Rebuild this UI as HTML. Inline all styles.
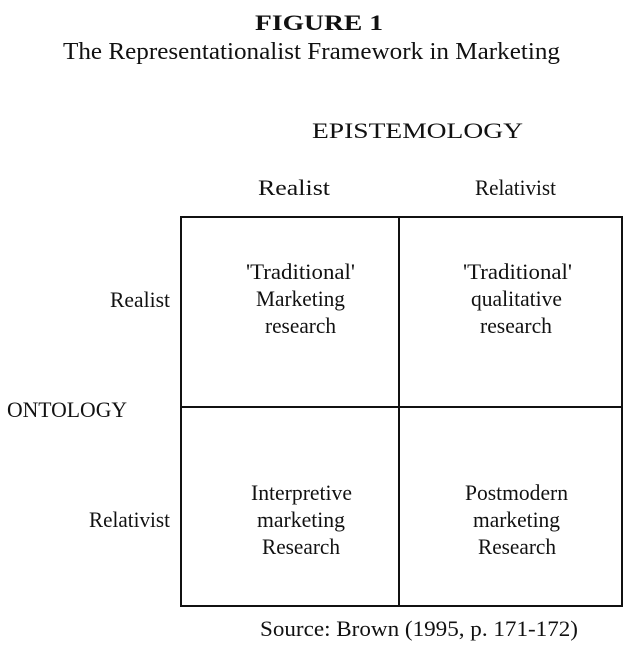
<!DOCTYPE html>
<html><head><meta charset="utf-8"><style>
html,body{margin:0;padding:0;background:#fff;}
svg{display:block;}
text{font-family:"Liberation Serif",serif;fill:#111;font-size:22px;}
</style></head><body>
<svg width="640" height="668" viewBox="0 0 640 668" xmlns="http://www.w3.org/2000/svg">
<text x="255" y="30" textLength="128" lengthAdjust="spacingAndGlyphs" style="font-weight:bold;font-size:22px">FIGURE 1</text>
<text x="63" y="59" textLength="497" lengthAdjust="spacingAndGlyphs" style="font-size:24px">The Representationalist Framework in Marketing</text>
<text x="312" y="138" textLength="211" lengthAdjust="spacingAndGlyphs">EPISTEMOLOGY</text>
<text x="258" y="195" textLength="72" lengthAdjust="spacingAndGlyphs">Realist</text>
<text x="475" y="195" textLength="81" lengthAdjust="spacingAndGlyphs">Relativist</text>
<text x="110" y="307" textLength="60" lengthAdjust="spacingAndGlyphs">Realist</text>
<text x="7" y="417" textLength="120" lengthAdjust="spacingAndGlyphs">ONTOLOGY</text>
<text x="89" y="527" textLength="81" lengthAdjust="spacingAndGlyphs">Relativist</text>
<g fill="none" stroke="#111" stroke-width="2">
<rect x="181" y="217" width="441" height="389"/>
<line x1="399" y1="217" x2="399" y2="606"/>
<line x1="181" y1="407" x2="622" y2="407"/>
</g>
<text x="246" y="279" textLength="109" lengthAdjust="spacingAndGlyphs">'Traditional'</text>
<text x="256" y="306" textLength="89" lengthAdjust="spacingAndGlyphs">Marketing</text>
<text x="265" y="333" textLength="71" lengthAdjust="spacingAndGlyphs">research</text>
<text x="463" y="279" textLength="109" lengthAdjust="spacingAndGlyphs">'Traditional'</text>
<text x="471" y="306" textLength="91" lengthAdjust="spacingAndGlyphs">qualitative</text>
<text x="480" y="333" textLength="72" lengthAdjust="spacingAndGlyphs">research</text>
<text x="251" y="500" textLength="101" lengthAdjust="spacingAndGlyphs">Interpretive</text>
<text x="257" y="527" textLength="88" lengthAdjust="spacingAndGlyphs">marketing</text>
<text x="262" y="554" textLength="78" lengthAdjust="spacingAndGlyphs">Research</text>
<text x="465" y="500" textLength="103" lengthAdjust="spacingAndGlyphs">Postmodern</text>
<text x="473" y="527" textLength="87" lengthAdjust="spacingAndGlyphs">marketing</text>
<text x="478" y="554" textLength="78" lengthAdjust="spacingAndGlyphs">Research</text>
<text x="260" y="636" textLength="318" lengthAdjust="spacingAndGlyphs">Source: Brown (1995, p. 171-172)</text>
</svg>
</body></html>
